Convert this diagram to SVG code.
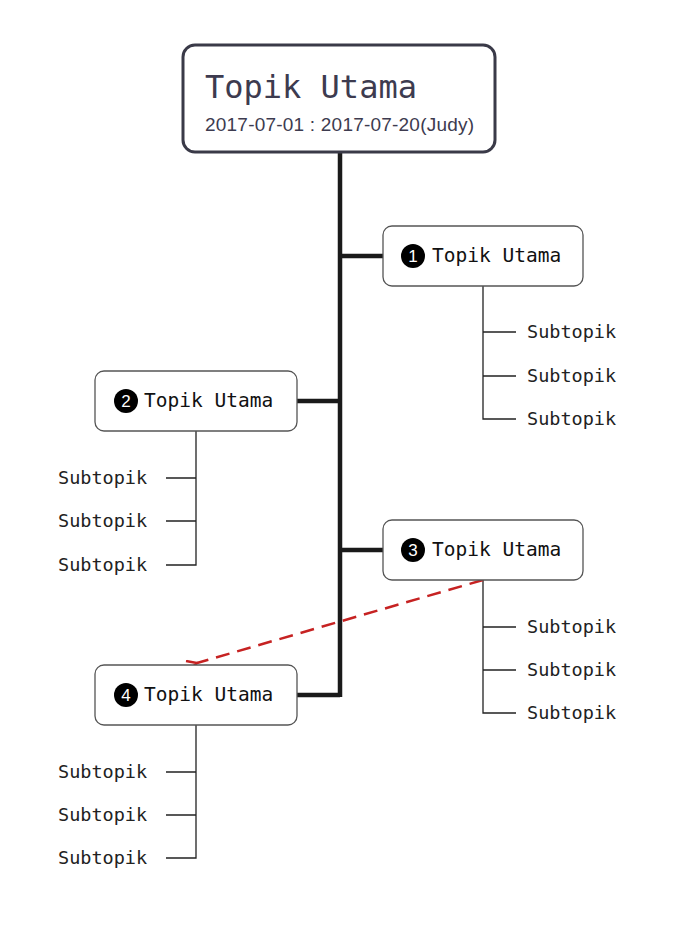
<svg xmlns="http://www.w3.org/2000/svg" width="679" height="935" viewBox="0 0 679 935">
<style>
.box{fill:#fff;stroke:#555;stroke-width:1.3}
.t{font-family:"DejaVu Sans Mono",monospace;font-size:19.5px;fill:#111}
.s{font-family:"DejaVu Sans Mono",monospace;font-size:18.5px;fill:#222}
.num{font-family:"Liberation Sans",sans-serif;font-size:17px;fill:#fff;text-anchor:middle}
.thin{stroke:#222;stroke-width:1.3;fill:none}
</style>
<defs>
<marker id="ar" markerWidth="12" markerHeight="12" refX="1" refY="6" orient="auto" markerUnits="userSpaceOnUse">
<path d="M11,1 L1,6 L11,11" fill="none" stroke="#c62222" stroke-width="2.5"/>
</marker>
</defs>
<rect width="679" height="935" fill="#fff"/>
<g id="connectors">
<path d="M340,152 V697" stroke="#1a1a1a" stroke-width="4.5" fill="none"/>
<path d="M340,256 H383 M297,401 H340 M340,550 H383 M297,695 H340" stroke="#1a1a1a" stroke-width="4.5" fill="none"/>
<path class="thin" d="M483,286 V419 H516 M483,332 H516 M483,376 H516"/>
<path class="thin" d="M196,431 V565 H166 M196,478 H166 M196,521 H166"/>
<path class="thin" d="M483,580 V713 H516 M483,627 H516 M483,670 H516"/>
<path class="thin" d="M196,725 V858 H166 M196,772 H166 M196,815 H166"/>
<path d="M483,580 L197,663" stroke="#c62222" stroke-width="2.5" stroke-dasharray="14,8" fill="none" marker-end="url(#ar)"/>
</g>
<g id="root">
<rect x="183" y="45" width="312" height="107" rx="12" fill="#fff" stroke="#3a3a48" stroke-width="3"/>
<text x="205" y="98" font-family="DejaVu Sans Mono,monospace" font-size="32" fill="#3d3b4f">Topik Utama</text>
<text x="205" y="131" font-family="Liberation Sans,sans-serif" font-size="19" fill="#3d3b4f" textLength="269">2017-07-01 : 2017-07-20(Judy)</text>
</g>
<g id="n1">
<rect class="box" x="383" y="226" width="200" height="60" rx="9"/>
<circle cx="413" cy="256" r="12" fill="#000"/><text class="num" x="413" y="262">1</text>
<text class="t" x="432" y="262">Topik Utama</text>
</g>
<g id="n2">
<rect class="box" x="95" y="371" width="202" height="60" rx="9"/>
<circle cx="126" cy="401" r="12" fill="#000"/><text class="num" x="126" y="407">2</text>
<text class="t" x="144" y="407">Topik Utama</text>
</g>
<g id="n3">
<rect class="box" x="383" y="520" width="200" height="60" rx="9"/>
<circle cx="413" cy="550" r="12" fill="#000"/><text class="num" x="413" y="556">3</text>
<text class="t" x="432" y="556">Topik Utama</text>
</g>
<g id="n4">
<rect class="box" x="95" y="665" width="202" height="60" rx="9"/>
<circle cx="126" cy="695" r="12" fill="#000"/><text class="num" x="126" y="701">4</text>
<text class="t" x="144" y="701">Topik Utama</text>
</g>
<g id="subs1"><text class="s" x="527" y="338">Subtopik</text><text class="s" x="527" y="382">Subtopik</text><text class="s" x="527" y="425">Subtopik</text></g>
<g id="subs2"><text class="s" x="58" y="484">Subtopik</text><text class="s" x="58" y="527">Subtopik</text><text class="s" x="58" y="571">Subtopik</text></g>
<g id="subs3"><text class="s" x="527" y="633">Subtopik</text><text class="s" x="527" y="676">Subtopik</text><text class="s" x="527" y="719">Subtopik</text></g>
<g id="subs4"><text class="s" x="58" y="778">Subtopik</text><text class="s" x="58" y="821">Subtopik</text><text class="s" x="58" y="864">Subtopik</text></g>
</svg>
